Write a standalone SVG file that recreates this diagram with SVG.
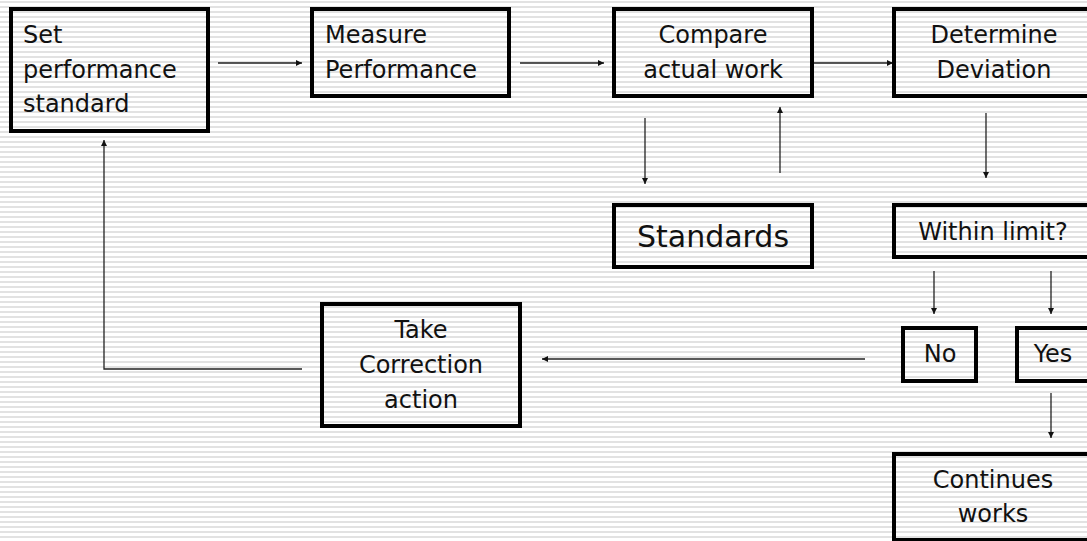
<svg xmlns="http://www.w3.org/2000/svg" width="1087" height="541" viewBox="0 0 1087 541">
<defs>
<pattern id="stripes" x="0" y="0" width="10" height="5" patternUnits="userSpaceOnUse">
<rect x="0" y="0" width="10" height="5" fill="#ffffff"/>
<rect x="0" y="1" width="10" height="2" fill="#e2e2e2"/>
</pattern>
<marker id="ah" viewBox="0 0 10 10" refX="10" refY="5" markerWidth="6" markerHeight="6" markerUnits="userSpaceOnUse" orient="auto">
<path d="M0,0 L10,5 L0,10 z" fill="#111"/>
</marker>
<style>
.box{fill:none;stroke:#000;stroke-width:4}
.t{font-family:"DejaVu Sans",Verdana,sans-serif;font-size:24px;fill:#111}
.c{text-anchor:middle}
.conn{fill:none;stroke:#222;stroke-width:1.3;marker-end:url(#ah)}
</style>
</defs>
<rect x="0" y="0" width="1087" height="541" fill="url(#stripes)"/>

<g id="connectors">
<line class="conn" x1="218" y1="63" x2="302" y2="63"/>
<line class="conn" x1="520" y1="63" x2="604" y2="63"/>
<line class="conn" x1="812" y1="63" x2="893" y2="63"/>
<line class="conn" x1="645" y1="118" x2="645" y2="184"/>
<line class="conn" x1="780" y1="173" x2="780" y2="107"/>
<line class="conn" x1="986" y1="113" x2="986" y2="178"/>
<line class="conn" x1="934" y1="271" x2="934" y2="314"/>
<line class="conn" x1="1051" y1="271" x2="1051" y2="314"/>
<line class="conn" x1="1051" y1="393" x2="1051" y2="438"/>
<line class="conn" x1="865" y1="359" x2="542" y2="359"/>
<polyline class="conn" points="302,369 104,369 104,140"/>
</g>

<g id="set-standard">
<rect class="box" x="11" y="9" width="197" height="122"/>
<text class="t" x="23" y="43">Set</text>
<text class="t" x="23" y="78">performance</text>
<text class="t" x="23" y="112">standard</text>
</g>

<g id="measure">
<rect class="box" x="312" y="9" width="197" height="87"/>
<text class="t" x="325" y="43">Measure</text>
<text class="t" x="325" y="78">Performance</text>
</g>

<g id="compare">
<rect class="box" x="614" y="9" width="198" height="87"/>
<text class="t c" x="713" y="43">Compare</text>
<text class="t c" x="713" y="78">actual work</text>
</g>

<g id="determine">
<rect class="box" x="894" y="9" width="201" height="87"/>
<text class="t c" x="994" y="43">Determine</text>
<text class="t c" x="994" y="78">Deviation</text>
</g>

<g id="standards">
<rect class="box" x="614" y="205" width="198" height="62"/>
<text class="t c" x="713" y="247" style="font-size:30px">Standards</text>
</g>

<g id="within-limit">
<rect class="box" x="894" y="205" width="201" height="52"/>
<text class="t c" x="993" y="240">Within limit?</text>
</g>

<g id="no">
<rect class="box" x="903" y="328" width="73" height="53"/>
<text class="t c" x="940" y="362">No</text>
</g>

<g id="yes">
<rect class="box" x="1017" y="328" width="73" height="53"/>
<text class="t c" x="1053" y="362">Yes</text>
</g>

<g id="continues">
<rect class="box" x="894" y="454" width="201" height="86"/>
<text class="t c" x="993" y="488">Continues</text>
<text class="t c" x="993" y="522">works</text>
</g>

<g id="take-correction">
<rect class="box" x="322" y="304" width="198" height="122"/>
<text class="t c" x="421" y="338">Take</text>
<text class="t c" x="421" y="373">Correction</text>
<text class="t c" x="421" y="408">action</text>
</g>
</svg>
